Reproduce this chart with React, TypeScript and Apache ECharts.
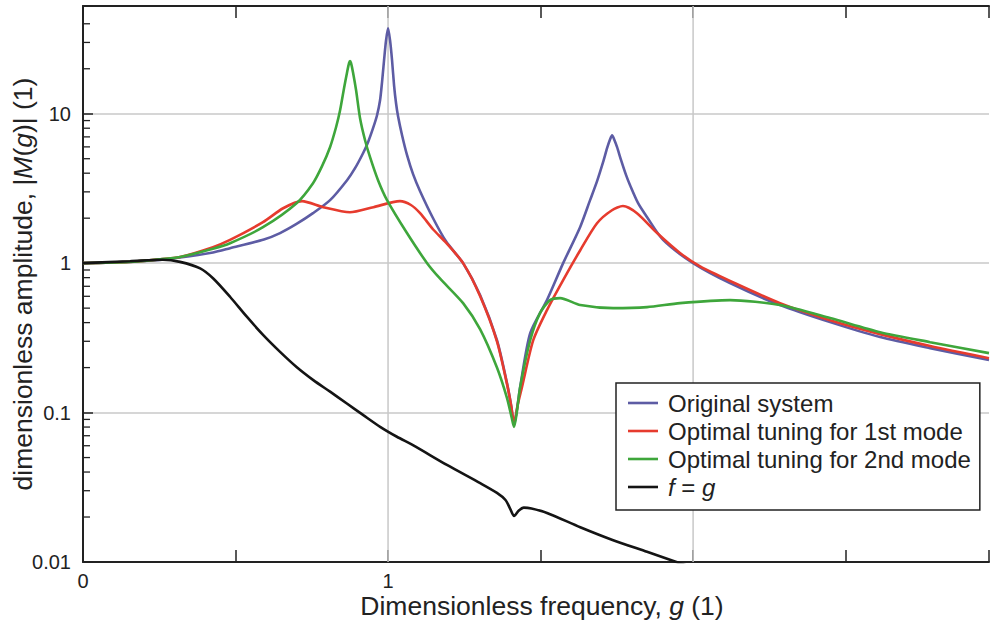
import React, { useEffect, useRef } from 'react';
import * as echarts from 'echarts';

// ---- Data ----
const seriesNames = ['Original system', 'Optimal tuning for 1st mode', 'Optimal tuning for 2nd mode', 'f = g'];
const seriesColors = ['#5d5ca4', '#e63b2e', '#3ea63b', '#141414'];

const xTickLabels: Record<string, string> = { '0': '0', '1': '1' };
const yTickLabels: Record<string, string> = { '-2': '0.01', '-1': '0.1', '0': '1', '1': '10' };
const verticalGridValues = [1, 2];
const minorTickValues = [
  0.02, 0.03, 0.04, 0.05, 0.06, 0.07, 0.08, 0.09,
  0.2, 0.3, 0.4, 0.5, 0.6, 0.7, 0.8, 0.9,
  2, 3, 4, 5, 6, 7, 8, 9,
  20, 30, 40,
];

const originalSystem: [number, number][] = [
  [0, 1.0], [0.15, 1.02], [0.25, 1.05], [0.318, 1.09], [0.426, 1.18], [0.482, 1.26],
  [0.593, 1.44], [0.646, 1.59], [0.7, 1.83], [0.754, 2.16], [0.81, 2.64], [0.8656, 3.59],
  [0.8918, 4.32], [0.918, 5.44], [0.9344, 6.45], [0.9508, 8.0], [0.9639, 9.77], [0.9738, 12.3],
  [0.9803, 16.3], [0.9869, 22.8], [0.9934, 31], [1.0, 37.3], [1.0066, 31], [1.0131, 22.8],
  [1.0197, 15.5], [1.0262, 11.75], [1.0328, 9.62], [1.0459, 7.18], [1.0623, 5.28], [1.082, 3.94],
  [1.105, 3.03], [1.148, 1.99], [1.19, 1.4], [1.246, 1.0], [1.302, 0.61], [1.357, 0.305],
  [1.39, 0.157], [1.404, 0.11], [1.413, 0.0825], [1.424, 0.11], [1.433, 0.148], [1.466, 0.34],
  [1.521, 0.566], [1.574, 1.0], [1.6295, 1.74], [1.6623, 2.64], [1.6852, 3.54], [1.7049, 4.74],
  [1.718, 5.88], [1.7279, 6.75], [1.7344, 7.18], [1.741, 6.75], [1.7508, 5.97], [1.7639, 4.89],
  [1.7803, 3.88], [1.7934, 3.32], [1.8197, 2.52], [1.8492, 2.03], [1.9016, 1.43], [2.0, 1.0],
  [2.121, 0.735], [2.285, 0.524], [2.449, 0.403], [2.613, 0.32], [2.777, 0.27], [2.97, 0.225],
];

const tuning1st: [number, number][] = [
  [0, 1.0], [0.15, 1.02], [0.25, 1.06], [0.318, 1.1], [0.426, 1.28], [0.482, 1.43],
  [0.59, 1.88], [0.656, 2.33], [0.718, 2.6], [0.787, 2.37], [0.875, 2.19], [0.952, 2.37],
  [1.039, 2.6], [1.075, 2.45], [1.105, 2.16], [1.148, 1.68], [1.19, 1.37], [1.246, 1.0],
  [1.302, 0.6], [1.357, 0.3], [1.39, 0.155], [1.404, 0.11], [1.413, 0.085], [1.426, 0.115],
  [1.439, 0.148], [1.476, 0.305], [1.521, 0.485], [1.574, 0.77], [1.63, 1.22], [1.685, 1.85],
  [1.734, 2.26], [1.77, 2.41], [1.816, 2.16], [1.882, 1.59], [1.957, 1.17], [2.023, 0.95],
  [2.121, 0.76], [2.285, 0.54], [2.449, 0.415], [2.613, 0.335], [2.777, 0.279], [2.97, 0.231],
];

const tuning2nd: [number, number][] = [
  [0, 1.0], [0.15, 1.02], [0.25, 1.06], [0.318, 1.1], [0.426, 1.25], [0.482, 1.36],
  [0.59, 1.74], [0.7, 2.52], [0.754, 3.43], [0.7836, 4.46], [0.8098, 5.97], [0.8295, 8.12],
  [0.8426, 10.5], [0.8557, 14.8], [0.8656, 18.9], [0.8721, 21.8], [0.8754, 22.5], [0.8787, 21.8],
  [0.8852, 18.9], [0.8951, 14.4], [0.9082, 9.33], [0.9246, 6.65], [0.941, 5.12], [0.9672, 3.59],
  [0.9967, 2.64], [1.062, 1.59], [1.128, 1.0], [1.17, 0.79], [1.246, 0.54], [1.302, 0.36],
  [1.357, 0.2], [1.39, 0.125], [1.405, 0.093], [1.413, 0.08], [1.422, 0.1], [1.433, 0.148],
  [1.466, 0.305], [1.498, 0.463], [1.531, 0.566], [1.564, 0.583], [1.63, 0.524], [1.738, 0.5],
  [1.849, 0.508], [1.957, 0.54], [2.121, 0.566], [2.285, 0.524], [2.449, 0.429], [2.613, 0.345],
  [2.777, 0.296], [2.97, 0.25],
];

const fEqualsG: [number, number][] = [
  [0, 1.0], [0.154, 1.03], [0.262, 1.055], [0.318, 1.02], [0.384, 0.923], [0.427, 0.79],
  [0.482, 0.596], [0.537, 0.438], [0.591, 0.33], [0.646, 0.255], [0.7, 0.202], [0.755, 0.165],
  [0.81, 0.138], [0.865, 0.115], [0.919, 0.0961], [0.974, 0.0803], [1.029, 0.0689],
  [1.083, 0.0603], [1.193, 0.0446], [1.302, 0.0337], [1.357, 0.029], [1.385, 0.026],
  [1.4, 0.0228], [1.413, 0.0203], [1.428, 0.022], [1.445, 0.0231], [1.47, 0.0228],
  [1.521, 0.0213], [1.63, 0.0171], [1.738, 0.014], [1.849, 0.0117], [1.957, 0.0098],
  [2.05, 0.0085],
];

const FONT = 'Liberation Sans, Arial, sans-serif';
const TEXT = '#222';

export default function App() {
  const ref = useRef<HTMLDivElement>(null);

  useEffect(() => {
    const chart = echarts.init(ref.current!, undefined, { renderer: 'svg' });
    const lineData = [originalSystem, tuning1st, tuning2nd, fEqualsG];

    const xAxisCommon = {
      type: 'value' as const,
      min: 0,
      max: 2.97,
      interval: 0.5,
      axisLine: { show: true, lineStyle: { color: TEXT, width: 2 } },
      axisTick: { show: true, inside: true, length: 12, lineStyle: { color: TEXT, width: 1.5 } },
      splitLine: { show: false },
    };

    const option: any = {
      animation: false,
      backgroundColor: '#fff',
      textStyle: { fontFamily: FONT },
      grid: { left: 83, right: 1, top: 6, bottom: 64, containLabel: false, outerBoundsMode: 'none' },
      legend: {
        data: seriesNames,
        orient: 'vertical',
        left: 616,
        top: 383,
        padding: [8, 9, 11, 12],
        itemGap: 4,
        itemWidth: 30,
        itemHeight: 2.6,
        icon: 'rect',
        backgroundColor: '#fff',
        borderColor: '#222',
        borderWidth: 1.5,
        borderRadius: 0,
        textStyle: {
          fontSize: 24,
          lineHeight: 24,
          color: TEXT,
          fontFamily: FONT,
          padding: [0, 0, 0, 5],
          rich: { i: { fontStyle: 'italic', fontSize: 24, fontFamily: FONT, color: TEXT } },
        },
        formatter: (name: string) => (name === 'f = g' ? '{i|f} = {i|g}' : name),
      },
      xAxis: [
        {
          ...xAxisCommon,
          position: 'bottom',
          axisLabel: {
            fontSize: 20,
            color: TEXT,
            fontFamily: FONT,
            margin: 9,
            formatter: (v: number) => xTickLabels[String(v)] ?? '',
          },
          name: 'Dimensionless frequency, {i|g} (1)',
          nameLocation: 'middle',
          nameGap: 30,
          nameMoveOverlap: false,
          nameTextStyle: {
            fontSize: 26.5,
            color: TEXT,
            fontFamily: FONT,
            padding: [0, 0, 0, 12],
            rich: { i: { fontStyle: 'italic', fontSize: 26.5, fontFamily: FONT, color: TEXT } },
          },
        },
        {
          ...xAxisCommon,
          position: 'top',
          axisLabel: { show: false },
        },
      ],
      yAxis: {
        type: 'log',
        logBase: 10,
        min: 0.01,
        max: 52.6,
        axisLine: { show: true, lineStyle: { color: TEXT, width: 2 } },
        axisTick: { show: true, inside: true, length: 10, lineStyle: { color: TEXT, width: 1.5 } },
        axisLabel: {
          fontSize: 20,
          color: TEXT,
          fontFamily: FONT,
          margin: 12,
          formatter: (v: number) => {
            const l = Math.log10(v);
            if (Math.abs(l - Math.round(l)) > 1e-6) return '';
            return yTickLabels[String(Math.round(l))] ?? '';
          },
        },
        splitLine: { show: true, lineStyle: { color: '#c8c8c8', width: 1.5 } },
        name: 'dimensionless amplitude, |{i|M}({i|g})| (1)',
        nameLocation: 'middle',
        nameGap: 47,
        nameMoveOverlap: false,
        nameTextStyle: {
          fontSize: 26.5,
          color: TEXT,
          fontFamily: FONT,
          rich: { i: { fontStyle: 'italic', fontSize: 26.5, fontFamily: FONT, color: TEXT } },
        },
      },
      series: [
        {
          type: 'custom',
          name: 'vgrid',
          silent: true,
          z: 1,
          xAxisIndex: 0,
          data: verticalGridValues.map((v) => [v, 1]),
          renderItem: (params: any, api: any) => {
            const p = api.coord([api.value(0), 1]);
            const cs = params.coordSys;
            return {
              type: 'line',
              shape: { x1: p[0], y1: cs.y, x2: p[0], y2: cs.y + cs.height },
              style: { stroke: '#c8c8c8', lineWidth: 1.5 },
            };
          },
        },
        {
          type: 'custom',
          name: 'minorTicks',
          silent: true,
          z: 4,
          xAxisIndex: 0,
          data: minorTickValues.map((v) => [0, v]),
          renderItem: (_params: any, api: any) => {
            const p = api.coord([0, api.value(1)]);
            return {
              type: 'line',
              shape: { x1: p[0], y1: p[1], x2: p[0] + 7, y2: p[1] },
              style: { stroke: TEXT, lineWidth: 1.3 },
            };
          },
        },
        ...seriesNames.map((name, i) => ({
          type: 'line',
          name,
          xAxisIndex: 0,
          data: lineData[i],
          symbol: 'none',
          showSymbol: false,
          smooth: 0.25,
          clip: true,
          z: 2 + i * 0.01,
          lineStyle: { color: seriesColors[i], width: 2.6 },
          itemStyle: { color: seriesColors[i] },
        })),
      ],
    };

    chart.setOption(option);
    return () => chart.dispose();
  }, []);

  return (
    <div
      ref={ref}
      style={{ position: 'fixed', left: 0, top: 0, width: 990, height: 626, background: '#fff' }}
    />
  );
}
